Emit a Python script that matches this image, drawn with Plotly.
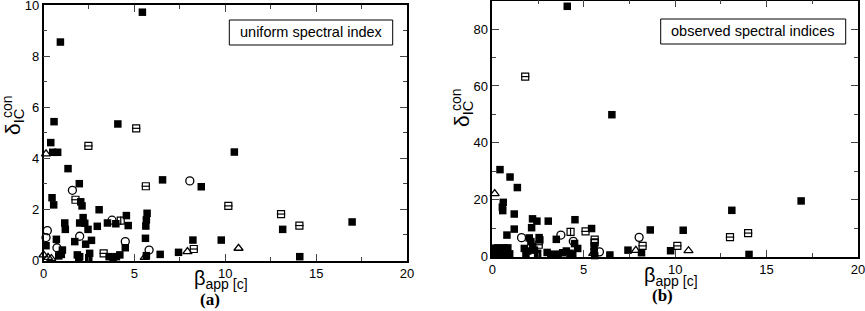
import plotly.graph_objects as go

W, H = 865, 311

# ---------------- data: panel (a) uniform spectral index ----------------
a_fill_x = [0.93, 5.44, 0.58, 4.09, 0.40, 0.51, 0.78, 1.35, 1.97, 2.05, 2.12, 0.47, 0.56, 6.55, 8.68,
            3.06, 2.18, 1.17, 1.20, 1.99, 2.27, 2.45, 2.96, 3.52, 3.98, 4.56, 4.66, 5.70, 5.66, 5.63,
            0.14, 0.71, 1.04, 0.84, 0.98, 1.72, 2.32, 2.64, 1.86, 1.94, 1.99, 2.54, 2.49, 3.61, 3.83,
            4.01, 4.20, 4.50, 5.61, 5.66, 6.42, 7.43, 8.22, 9.78, 10.50, 13.16, 16.98, 14.10]
a_fill_y = [8.56, 9.73, 5.44, 5.35, 4.62, 4.24, 4.24, 3.60, 3.01, 2.30, 2.14, 2.46, 2.18, 3.16, 2.89,
            1.99, 1.68, 1.47, 1.22, 1.47, 1.46, 1.22, 1.34, 1.47, 1.44, 1.76, 1.37, 1.85, 1.59, 1.35,
            0.58, 0.83, 0.41, 0.18, 0.24, 0.74, 0.64, 0.79, 0.22, 0.09, 0.15, 0.28, 0.11, 0.15, 0.09,
            0.15, 0.22, 0.50, 0.87, 0.19, 0.24, 0.32, 0.80, 0.80, 4.25, 1.22, 1.51, 0.15]
a_circ_x = [1.59, 8.05, 3.77, 0.21, 0.14, 0.74, 1.99, 4.50, 5.81]
a_circ_y = [2.75, 3.12, 1.58, 1.17, 0.90, 0.50, 0.95, 0.74, 0.41]
a_tri_x = [0.14, 0.00, 0.25, 0.43, 5.57, 7.92, 10.73]
a_tri_y = [4.18, 0.22, 0.12, 0.08, 0.12, 0.35, 0.48]
a_hstr_x = [5.10, 2.47, 1.76, 5.63, 3.31, 8.27, 10.17, 13.07, 14.08]
a_hstr_y = [5.18, 4.49, 2.38, 2.91, 0.28, 0.45, 2.14, 1.82, 1.37]
a_vstr_x = [4.25]
a_vstr_y = [1.56]

# ---------------- data: panel (b) observed spectral indices ----------------
b_fill_x = [4.10, 6.54, 0.42, 0.97, 1.37, 0.60, 0.55, 0.57, 1.20, 2.20, 2.44, 3.06, 4.52, 2.15, 1.20,
            5.43, 0.80, 2.02, 2.11, 2.56, 2.60, 3.50, 2.21, 2.30, 4.67, 5.57, 5.57, 5.60, 6.43, 7.42,
            8.16, 8.64, 10.44, 9.75, 13.10, 14.04, 16.89,
            0.10, 0.30, 0.50, 0.65, 0.85, 0.20, 0.35, 0.60, 0.75, 0.95, 0.15,
            1.75, 1.93, 1.84, 2.48, 3.00, 3.20, 3.40, 3.60, 3.85, 4.05, 4.25, 4.40, 4.50]
b_fill_y = [88.0, 49.9, 30.6, 28.0, 24.3, 19.1, 17.4, 16.2, 15.0, 13.3, 12.5, 12.5, 13.0, 10.2, 9.7,
            9.9, 7.6, 6.6, 5.3, 6.7, 5.9, 6.1, 3.5, 2.3, 2.9, 3.5, 1.75, 0.4, 0.6, 2.3,
            1.4, 9.4, 9.3, 2.1, 16.3, 0.8, 19.6,
            3.0, 3.1, 3.0, 3.1, 3.1, 1.3, 1.0, 1.3, 1.2, 1.0, 0.5,
            2.9, 2.0, 0.8, 1.2, 1.5, 0.9, 0.6, 0.9, 1.4, 2.0, 1.2, 0.8, 4.6]
b_circ_x = [1.60, 3.75, 4.43, 5.86, 8.03, 0.30]
b_circ_y = [6.7, 7.6, 5.4, 1.7, 6.8, 1.5]
b_tri_x = [0.13, 5.52, 7.85, 10.73, 0.20]
b_tri_y = [22.2, 1.2, 2.2, 2.1, 0.6]
b_hstr_x = [1.80, 5.10, 2.54, 5.60, 5.60, 8.22, 10.12, 13.00, 13.99]
b_hstr_y = [63.3, 8.9, 4.2, 6.0, 5.0, 3.8, 3.8, 6.9, 8.3]
b_vstr_x = [4.28]
b_vstr_y = [8.7]

x_ticks = [0, 5, 10, 15, 20]
a_y_ticks = [0, 2, 4, 6, 8, 10]
b_y_ticks = [0, 20, 40, 60, 80]

# ---------------- figure ----------------
fig = go.Figure()


def add_panel(xa, ya, fx, fy, cx, cy, tx, ty, hx, hy, vx, vy):
    common = dict(mode="markers", xaxis=xa, yaxis=ya, showlegend=False,
                  cliponaxis=False, hoverinfo="skip")
    fig.add_trace(go.Scatter(x=fx, y=fy, marker=dict(symbol="square", size=7.5, color="black",
                                                     line=dict(width=0)), **common))
    fig.add_trace(go.Scatter(x=cx, y=cy, marker=dict(symbol="circle-open", size=8, color="black",
                                                     line=dict(width=1.3)), **common))
    fig.add_trace(go.Scatter(x=tx, y=ty, marker=dict(symbol="triangle-up-open", size=8, color="black",
                                                     line=dict(width=1.3)), **common))
    fig.add_trace(go.Scatter(x=hx, y=hy, marker=dict(symbol="square-open", size=7, color="black",
                                                     line=dict(width=1.2)), **common))
    fig.add_trace(go.Scatter(x=hx, y=hy, marker=dict(symbol="line-ew-open", size=6, color="black",
                                                     line=dict(width=1.2)), **common))
    fig.add_trace(go.Scatter(x=vx, y=vy, marker=dict(symbol="square-open", size=7, color="black",
                                                     line=dict(width=1.2)), **common))
    fig.add_trace(go.Scatter(x=vx, y=vy, marker=dict(symbol="line-ns-open", size=6, color="black",
                                                     line=dict(width=1.2)), **common))


add_panel("x", "y", a_fill_x, a_fill_y, a_circ_x, a_circ_y, a_tri_x, a_tri_y,
          a_hstr_x, a_hstr_y, a_vstr_x, a_vstr_y)
add_panel("x2", "y2", b_fill_x, b_fill_y, b_circ_x, b_circ_y, b_tri_x, b_tri_y,
          b_hstr_x, b_hstr_y, b_vstr_x, b_vstr_y)

tickfont = dict(family="Liberation Sans, Arial, sans-serif", size=13, color="black")


def xaxis(dom, anchor):
    return dict(domain=dom, anchor=anchor, range=[0, 20], tickvals=x_ticks,
                ticktext=[str(v) for v in x_ticks], ticks="inside", ticklen=7, tickwidth=1,
                tickcolor="#444", minor=dict(ticks="inside", dtick=2.5, tick0=0, ticklen=4,
                                             tickcolor="#444"),
                showline=True, linecolor="black", linewidth=1.5, mirror="ticks",
                showgrid=False, zeroline=False, tickfont=tickfont, fixedrange=True,
                ticklabeloverflow="allow", automargin=False)


def yaxis(dom, anchor, rng, vals, minor_dtick):
    return dict(domain=dom, anchor=anchor, range=rng, tickvals=vals,
                ticktext=[str(v) for v in vals], ticks="inside", ticklen=7, tickwidth=1,
                tickcolor="#444", minor=dict(ticks="inside", dtick=minor_dtick, tick0=0, ticklen=4,
                                             tickcolor="#444"),
                showline=True, linecolor="black", linewidth=1.5, mirror="ticks",
                showgrid=False, zeroline=False, tickfont=tickfont, fixedrange=True,
                ticklabeloverflow="allow", automargin=False)


fig.update_layout(
    width=W, height=H,
    margin=dict(l=0, r=0, t=0, b=0, pad=0),
    paper_bgcolor="white", plot_bgcolor="white",
    xaxis=xaxis([43.5 / W, 407 / W], "y"),
    yaxis=yaxis([1 - 260.5 / H, 1 - 5.3 / H], "x", [0, 10], a_y_ticks, 1),
    xaxis2=xaxis([492.3 / W, 858 / W], "y2"),
    yaxis2=yaxis([1 - 256.7 / H, 1 - 0.6 / H], "x2", [0, 90], b_y_ticks, 10),
)

ann = []
boxes = []


def px(xp, yp):
    return xp / W, 1 - yp / H


# legend-like text boxes
for (x0, y0, x1, y1, txt) in [(229.3, 20, 392.7, 45, "uniform spectral index"),
                              (660.7, 19, 845.7, 44, "observed spectral indices")]:
    a0 = px(x0, y0)
    a1 = px(x1, y1)
    boxes.append(dict(type="rect", xref="paper", yref="paper", x0=a0[0], y0=a1[1], x1=a1[0], y1=a0[1],
                      line=dict(color="black", width=1), fillcolor="white", layer="above"))
    cx, cy = px((x0 + x1) / 2, (y0 + y1) / 2)
    ann.append(dict(xref="paper", yref="paper", x=cx, y=cy, xanchor="center", yanchor="middle",
                    text=txt, showarrow=False,
                    font=dict(family="Liberation Sans, Arial, sans-serif", size=14.5, color="black")))

# x axis titles and panel labels
for (xc, yt, lab, xl, yl) in [(221, 279, "(a)", 210, 299), (671, 276, "(b)", 662, 295)]:
    x, y = px(xc, yt)
    ann.append(dict(xref="paper", yref="paper", x=x, y=y, xanchor="center", yanchor="middle",
                    text="β<sub>app [c]</sub>", showarrow=False,
                    font=dict(family="Liberation Sans, Arial, sans-serif", size=20, color="black")))
    x, y = px(xl, yl)
    ann.append(dict(xref="paper", yref="paper", x=x, y=y, xanchor="center", yanchor="middle",
                    text="<b>" + lab + "</b>", showarrow=False,
                    font=dict(family="Liberation Serif, Times New Roman, serif", size=17, color="black")))

# y axis titles (rotated)
for (xd, yd, xs, ys) in [(14, 121, 7, 106), (463, 114, 456, 99)]:
    x, y = px(xd, yd)
    ann.append(dict(xref="paper", yref="paper", x=x, y=y, xanchor="center", yanchor="middle",
                    text="δ<sub>IC</sub>", showarrow=False,
                    textangle=-90,
                    font=dict(family="Liberation Sans, Arial, sans-serif", size=21, color="black")))
    x, y = px(xs, ys)
    ann.append(dict(xref="paper", yref="paper", x=x, y=y, xanchor="center", yanchor="middle",
                    text="con", showarrow=False, textangle=-90,
                    font=dict(family="Liberation Sans, Arial, sans-serif", size=14, color="black")))

fig.update_layout(annotations=ann, shapes=boxes)
fig.write_html("out.html", config={"displayModeBar": False},
               post_script="document.body.style.margin='0px';document.body.style.overflow='hidden';")
